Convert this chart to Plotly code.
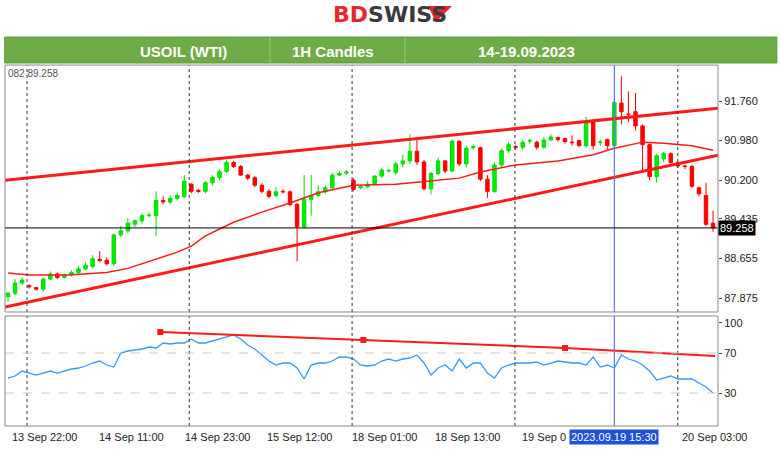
import plotly.graph_objects as go

opens = [87.90,87.97,88.17,88.12,88.08,88.05,88.25,88.35,88.28,88.33,88.38,88.45,88.50,88.64,88.62,88.55,89.12,89.20,89.33,89.40,
         89.50,89.50,89.80,89.77,89.84,89.88,90.12,90.00,89.98,90.15,90.25,90.37,90.55,90.47,90.30,90.25,90.10,89.98,89.90,89.98,
         89.97,89.72,89.28,89.82,89.90,89.97,90.05,90.30,90.34,90.20,90.05,90.07,90.12,90.28,90.38,90.35,90.52,90.58,90.77,90.56,
         90.03,90.33,90.58,90.38,90.97,90.52,90.84,90.84,90.22,89.98,90.50,90.78,90.86,90.85,90.97,90.95,90.85,90.99,91.04,91.02,
         90.95,90.98,90.88,91.35,90.95,91.00,90.88,91.72,91.50,91.55,91.27,90.90,90.27,90.62,90.72,90.55,90.48,90.47,90.05,89.90,89.35]
closes = [87.97,88.17,88.23,88.10,88.05,88.25,88.35,88.28,88.33,88.38,88.45,88.52,88.65,88.62,88.55,89.12,89.20,89.35,89.40,89.50,
          89.51,89.80,89.77,89.84,89.90,90.18,89.98,89.98,90.15,90.25,90.37,90.55,90.47,90.30,90.24,90.10,89.98,89.88,89.97,89.97,
          89.72,89.28,89.82,89.90,89.97,90.05,90.30,90.33,90.36,90.02,90.07,90.12,90.28,90.40,90.39,90.52,90.58,90.77,90.56,90.03,
          90.33,90.58,90.38,90.97,90.52,90.83,90.86,90.22,89.98,90.50,90.78,90.90,90.85,90.95,90.98,90.85,90.99,91.05,91.00,90.96,
          90.94,90.88,91.35,90.88,90.95,90.88,91.73,91.55,91.50,91.27,90.90,90.27,90.68,90.73,90.55,90.48,90.47,90.08,89.93,89.33,89.258]
highs = [88.00,88.25,88.28,88.15,88.10,88.28,88.40,88.38,88.36,88.42,88.50,88.58,88.72,88.80,88.68,89.15,89.30,89.45,89.42,89.55,
         89.56,89.98,89.88,89.90,89.95,90.30,90.14,90.03,90.18,90.30,90.42,90.60,90.58,90.50,90.32,90.28,90.14,90.02,90.06,90.02,
         90.00,89.75,90.30,90.30,90.10,90.10,90.35,90.38,90.40,90.24,90.10,90.18,90.30,90.45,90.42,90.56,90.70,91.10,91.05,90.60,
         90.36,90.65,90.60,91.00,90.98,90.88,90.90,90.86,90.30,90.55,90.82,90.95,90.90,90.99,91.02,90.98,91.05,91.10,91.06,91.04,
         91.08,91.00,91.45,91.40,91.00,91.02,91.80,92.25,91.95,91.92,91.30,90.92,90.72,90.76,90.75,90.56,90.50,90.50,90.07,90.15,89.60]
lows = [87.80,87.93,88.12,88.06,88.02,88.00,88.22,88.25,88.26,88.30,88.35,88.42,88.46,88.58,88.52,88.50,89.08,89.15,89.28,89.34,
        89.46,89.10,89.72,89.73,89.80,89.85,89.94,89.95,89.94,90.10,90.20,90.34,90.44,90.28,90.20,90.06,89.94,89.84,89.86,89.94,
        89.68,88.60,89.24,89.50,89.86,89.93,90.00,90.28,90.30,89.98,90.02,90.05,90.10,90.25,90.35,90.30,90.45,90.52,90.50,90.00,
        89.92,90.30,90.34,90.36,90.48,90.45,90.80,90.18,89.85,89.95,90.45,90.74,90.80,90.80,90.92,90.80,90.82,91.00,90.96,90.92,
        90.88,90.85,90.84,90.80,90.88,90.80,90.85,91.30,91.35,91.18,90.40,90.20,90.15,90.55,90.50,90.44,90.42,90.05,89.88,89.30,89.18]
idx = list(range(len(closes)))

ma_x = [0,3,8.5,14,17,19,22,24,26,28,32,36,40,44,49,55,58,64,67,72,78,83,86,90,93,97,100]
ma_y = [88.37,88.33,88.33,88.38,88.46,88.55,88.68,88.78,88.90,89.10,89.37,89.57,89.75,89.95,90.10,90.12,90.16,90.24,90.36,90.50,90.58,90.70,90.83,90.95,90.93,90.88,90.79]

chan_x = [-0.43, 100.7]
chan_upper = [90.20, 91.62]
chan_lower = [87.70, 90.69]

rsi = [45,47,52,50,48,50,52,50,52,54,55,57,60,62,58,56,70,72,73,74,76,75,80,79,80,80,84,80,80,82,84,86,88,84,78,74,68,62,58,60,
       60,55,44,58,60,60,62,66,66,64,58,57,58,62,64,62,64,65,68,60,48,55,58,52,64,55,60,60,50,45,55,58,60,60,60,61,58,60,62,61,
       60,60,58,66,56,58,55,68,64,62,58,52,43,45,47,44,44,44,40,36,30]
rsi_tl_x = [21.6, 50.4, 79.0, 100.3]
rsi_tl_y = [91, 83, 75, 67]

price_ticks = [91.760, 90.980, 90.200, 89.435, 88.655, 87.875]
rsi_ticks = [100, 70, 30]
vlines = [2.7, 25.7, 48.8, 71.9, 95.0]
cursor_idx = 86
last_price = 89.258
xlab_pos = [0.3, 12.6, 24.8, 36.5, 48.5, 60.3, 72.6, 95.3]
xlab_txt = ["13 Sep 22:00","14 Sep 11:00","14 Sep 23:00","15 Sep 12:00","18 Sep 01:00","18 Sep 13:00","19 Sep 0","20 Sep 03:00"]

RED = "#ff1a1a"
fig = go.Figure()
fig.add_trace(go.Candlestick(x=idx, open=opens, high=highs, low=lows, close=closes,
    increasing=dict(line=dict(color="#00dd00", width=1), fillcolor="#00ee00"),
    decreasing=dict(line=dict(color="#ff0000", width=1), fillcolor="#ff0000"),
    whiskerwidth=0, showlegend=False, xaxis="x", yaxis="y"))
fig.add_trace(go.Scatter(x=ma_x, y=ma_y, mode="lines", line=dict(color=RED, width=1.5), showlegend=False))
fig.add_trace(go.Scatter(x=chan_x, y=chan_upper, mode="lines", line=dict(color=RED, width=3), showlegend=False))
fig.add_trace(go.Scatter(x=chan_x, y=chan_lower, mode="lines", line=dict(color=RED, width=3), showlegend=False))
fig.add_trace(go.Scatter(x=idx, y=rsi, mode="lines", line=dict(color="#3399ff", width=1.3), showlegend=False, xaxis="x2", yaxis="y2"))
fig.add_trace(go.Scatter(x=rsi_tl_x, y=rsi_tl_y, mode="lines+markers", line=dict(color=RED, width=2),
    marker=dict(symbol="square", size=6, color=RED, opacity=[1,1,1,0]), showlegend=False, xaxis="x2", yaxis="y2"))

shapes = []
for v in vlines:
    for xr, ya in [("x", "y domain"), ("x2", "y2 domain")]:
        shapes.append(dict(type="line", xref=xr, yref=ya, x0=v, x1=v, y0=0, y1=1,
                           line=dict(color="#333", width=1, dash="dot")))
for xr, ya in [("x","y domain"),("x2","y2 domain")]:
    shapes.append(dict(type="line", xref=xr, yref=ya, x0=cursor_idx, x1=cursor_idx, y0=0, y1=1, line=dict(color="#6670ff", width=1.2)))
shapes.append(dict(type="line", xref="x domain", yref="y", x0=0, x1=1, y0=last_price, y1=last_price, line=dict(color="black", width=1)))
for lv in [70, 30]:
    shapes.append(dict(type="line", xref="x2 domain", yref="y2", x0=0, x1=1, y0=lv, y1=lv, line=dict(color="#c8c8c8", width=1, dash="dash")))
shapes.append(dict(type="rect", xref="paper", yref="paper", x0=0.0064, x1=0.9205, y0=0.3143, y1=0.857, line=dict(color="#888", width=1)))
shapes.append(dict(type="rect", xref="paper", yref="paper", x0=0.0064, x1=0.9205, y0=0.0637, y1=0.3055, line=dict(color="#888", width=1)))
shapes.append(dict(type="rect", xref="paper", yref="paper", x0=0.006, x1=0.996, y0=1-63/455, y1=1-37/455,
                   fillcolor="#6fab46", line=dict(color="#5e9a3a", width=1)))
for sx in [270/780, 405/780]:
    shapes.append(dict(type="line", xref="paper", yref="paper", x0=sx, x1=sx, y0=1-63/455, y1=1-37/455, line=dict(color="#9cc87f", width=1)))
shapes.append(dict(type="path", xref="paper", yref="paper",
                   path=f"M {428/780} {1-6/455} L {452/780} {1-6/455} L {436/780} {1-22/455} Z", fillcolor="#e8262b", line=dict(width=0)))

M = "middle"
ann = [
    dict(x=0.5, y=1-14/455, xref="paper", yref="paper", showarrow=False, xanchor="center", yanchor=M,
         text="<b><span style='color:#e8262b'>BD</span><span style='color:#3a3a3a'>SWISS</span></b>", font=dict(size=22, family="DejaVu Sans")),
    dict(x=138/780, y=1-51/455, xref="paper", yref="paper", yanchor=M, showarrow=False, text="<b>USOIL (WTI)</b>", font=dict(size=15, color="white")),
    dict(x=333/780, y=1-51/455, xref="paper", yref="paper", yanchor=M, showarrow=False, text="<b>1H Candles</b>", font=dict(size=15, color="white")),
    dict(x=577/780, y=1-51/455, xref="paper", yref="paper", yanchor=M, showarrow=False, text="<b>14-19.09.2023</b>", font=dict(size=15, color="white")),
    dict(x=6/780, y=1-73/455, xref="paper", yref="paper", yanchor=M, showarrow=False, xanchor="left", text="082 89.258", font=dict(size=10, color="#555")),
    dict(x=1, xref="x domain", y=last_price, yref="y", xanchor="left", yanchor=M, showarrow=False, text="89.258",
         bgcolor="black", font=dict(size=11, color="white"), borderpad=1),
]
for p, t in zip(xlab_pos, xlab_txt):
    ann.append(dict(x=p, xref="x2", y=1-437/455, yref="paper", xanchor="left", yanchor=M, showarrow=False, text=t,
                    font=dict(size=11, color="#222")))
ann.append(dict(x=cursor_idx, xref="x2", y=1-437/455, yref="paper", yanchor=M, showarrow=False, text="2023.09.19 15:30",
                bgcolor="#1f50d8", font=dict(size=11, color="white"), borderpad=1))

fig.update_layout(
    width=780, height=455, margin=dict(l=0, r=0, t=0, b=0),
    paper_bgcolor="white", plot_bgcolor="white", font=dict(family="Arial, Liberation Sans", size=11, color="#222"),
    xaxis=dict(domain=[0.0064, 0.9205], range=[-0.43, 100.7], showgrid=False, showticklabels=False, rangeslider=dict(visible=False), zeroline=False),
    yaxis=dict(domain=[0.3143, 0.857], range=[87.60, 92.47], side="right", tickvals=price_ticks,
               ticktext=[f"{v:.3f}" for v in price_ticks], showgrid=False, zeroline=False, ticks="outside", ticklen=3),
    xaxis2=dict(domain=[0.0064, 0.9205], range=[-0.43, 100.7], anchor="y2", matches="x", showgrid=False, showticklabels=False, zeroline=False),
    yaxis2=dict(domain=[0.0637, 0.3055], range=[-3, 107], side="right", anchor="x2", tickvals=rsi_ticks,
                showgrid=False, zeroline=False, ticks="outside", ticklen=3),
    shapes=shapes, annotations=ann,
)
fig.write_html("out.html", config={"displayModeBar": False},
               post_script="document.body.style.margin='0';document.body.style.overflow='hidden';")
